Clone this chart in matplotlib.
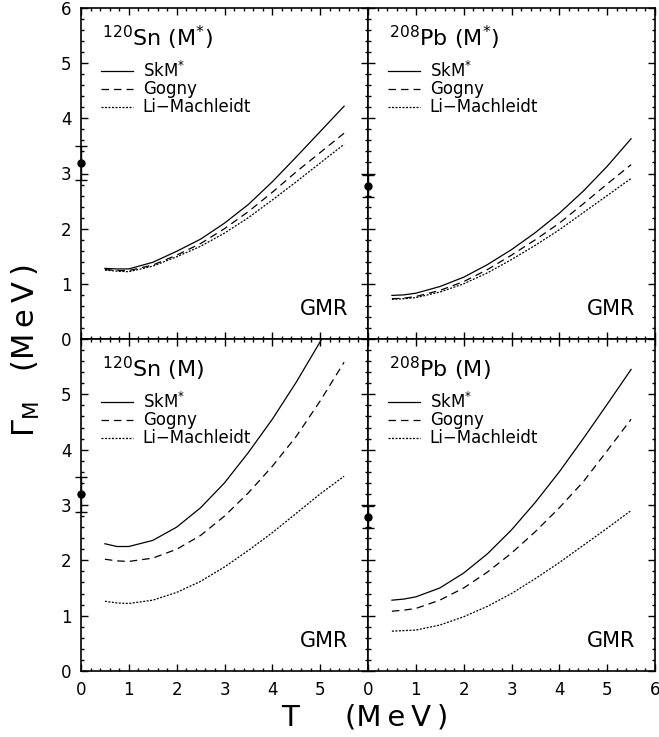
import numpy as np
import matplotlib
matplotlib.use('Agg')
import matplotlib.pyplot as plt
from matplotlib.ticker import MultipleLocator

plt.rcParams['font.family'] = ['DejaVu Sans']
plt.rcParams['mathtext.fontset'] = 'dejavusans'

# temperature grid (MeV)
T = [0.5, 0.75, 1.0, 1.5, 2.0, 2.5, 3.0, 3.5, 4.0, 4.5, 5.0, 5.5]

# 120Sn, effective mass M*
sn_mstar_skm   = [1.28, 1.27, 1.27, 1.39, 1.59, 1.81, 2.10, 2.44, 2.85, 3.30, 3.76, 4.22]
sn_mstar_gogny = [1.26, 1.24, 1.24, 1.34, 1.52, 1.73, 2.00, 2.31, 2.66, 3.03, 3.38, 3.73]
sn_mstar_lim   = [1.25, 1.23, 1.22, 1.32, 1.49, 1.68, 1.92, 2.20, 2.52, 2.85, 3.19, 3.53]

# 208Pb, effective mass M*
pb_mstar_skm   = [0.79, 0.80, 0.83, 0.95, 1.12, 1.35, 1.62, 1.93, 2.28, 2.68, 3.13, 3.63]
pb_mstar_gogny = [0.73, 0.74, 0.77, 0.88, 1.04, 1.26, 1.52, 1.80, 2.10, 2.45, 2.81, 3.16]
pb_mstar_lim   = [0.72, 0.73, 0.75, 0.85, 1.00, 1.20, 1.44, 1.70, 1.98, 2.29, 2.60, 2.91]

# 120Sn, bare mass M
sn_m_skm   = [2.30, 2.25, 2.25, 2.36, 2.60, 2.95, 3.40, 3.95, 4.55, 5.22, 5.95, 6.70]
sn_m_gogny = [2.02, 1.99, 1.98, 2.04, 2.20, 2.45, 2.80, 3.22, 3.70, 4.24, 4.88, 5.58]
sn_m_lim   = [1.26, 1.23, 1.22, 1.28, 1.42, 1.62, 1.88, 2.18, 2.50, 2.85, 3.20, 3.52]

# 208Pb, bare mass M
pb_m_skm   = [1.28, 1.30, 1.34, 1.50, 1.77, 2.12, 2.55, 3.05, 3.60, 4.20, 4.82, 5.45]
pb_m_gogny = [1.08, 1.10, 1.13, 1.28, 1.50, 1.79, 2.13, 2.52, 2.95, 3.42, 3.98, 4.55]
pb_m_lim   = [0.72, 0.73, 0.74, 0.83, 0.98, 1.17, 1.40, 1.67, 1.96, 2.27, 2.58, 2.90]

# measured widths at T=0 (value, error)
exp_sn = (3.19, 0.31)
exp_pb = (2.78, 0.20)

labels = ['SkM$^{*}$', 'Gogny', 'Li\u2212Machleidt']
styles = [dict(ls='-'), dict(ls=(0, (6, 4))), dict(ls=(0, (1.6, 1.2)))]

panels = [
    (r'$^{120}$Sn (M$^{*}$)', [sn_mstar_skm, sn_mstar_gogny, sn_mstar_lim], exp_sn),
    (r'$^{208}$Pb (M$^{*}$)', [pb_mstar_skm, pb_mstar_gogny, pb_mstar_lim], exp_pb),
    (r'$^{120}$Sn (M)', [sn_m_skm, sn_m_gogny, sn_m_lim], exp_sn),
    (r'$^{208}$Pb (M)', [pb_m_skm, pb_m_gogny, pb_m_lim], exp_pb),
]

ticks = [0, 1, 2, 3, 4, 5, 6]

fig = plt.figure(figsize=(6.59, 7.37), dpi=100)
W = 287 / 659
lefts = [81 / 659, 368 / 659]
bottoms = [(737 - 339) / 737, (737 - 671) / 737]
heights = [331 / 737, 332 / 737]

for k, (title, curves, exp) in enumerate(panels):
    row, col = divmod(k, 2)
    ax = fig.add_axes([lefts[col], bottoms[row], W, heights[row]])

    for vals, st in zip(curves, styles):
        ax.plot(T, vals, color='k', lw=0.9, **st)

    eb = ax.errorbar([0], [exp[0]], yerr=[exp[1]], fmt='o', ms=5, color='k',
                     capsize=4.5, elinewidth=1.0, capthick=1.0)
    for a in [eb[0], *eb[1], *eb[2]]:
        a.set_clip_on(False)

    ax.set_xlim(0, 6)
    ax.set_ylim(0, 6)
    ax.set_xticks(ticks)
    ax.set_yticks(ticks)
    ax.xaxis.set_minor_locator(MultipleLocator(0.2))
    ax.yaxis.set_minor_locator(MultipleLocator(0.2))
    ax.tick_params(which='both', direction='in', top=True, right=True,
                   width=1.0, labelsize=12, pad=7)
    ax.tick_params(which='major', length=5)
    ax.tick_params(which='minor', length=2.5)
    for sp in ax.spines.values():
        sp.set_linewidth(1.2)

    if row == 0:
        ax.set_xticklabels([])
    else:
        ax.set_xticklabels([str(t) if (t < 6 or col == 1) else '' for t in ticks])
    if col == 1:
        ax.set_yticklabels([])
    elif row == 1:
        ax.set_yticklabels([str(t) if t < 6 else '' for t in ticks])
    else:
        ax.set_yticklabels([str(t) for t in ticks])

    ax.text(0.073, 0.885, title, transform=ax.transAxes, fontsize=16, ha='left',
            va='baseline')

    # legend: short line samples followed by the model names
    for i, (lab, st) in enumerate(zip(labels, styles)):
        yy = 0.810 - i * 0.054
        ax.plot([0.07, 0.18], [yy, yy], transform=ax.transAxes, color='k',
                lw=0.9, **st)
        ax.text(0.215, yy, lab, transform=ax.transAxes, fontsize=12,
                ha='left', va='center')

    ax.text(0.93, 0.073, 'GMR', transform=ax.transAxes, fontsize=15,
            ha='right', va='baseline')

ts = '\u2009'
fig.text(0.553, 0.016, 'T     (' + ts.join('MeV') + ts + ')', fontsize=21,
         ha='center', va='baseline')
fig.text(0.015, 0.525, r'$\Gamma_{\rm M}$   (' + ts.join('MeV') + ts + ')',
         fontsize=22, rotation=90, ha='left', va='center')

fig.savefig('out.png', dpi=100)
